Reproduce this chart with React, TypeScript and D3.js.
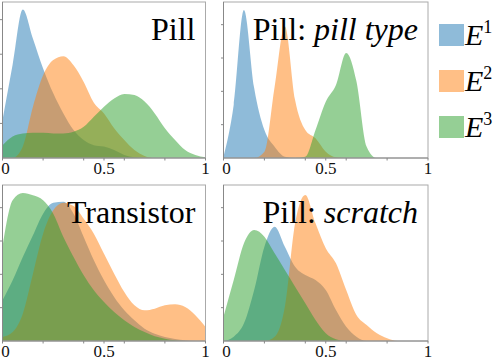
import React from 'react';
import * as d3 from 'd3';

// x grid shared by every density curve
const xs = [0, 0.05, 0.1, 0.15, 0.2, 0.25, 0.3, 0.35, 0.4, 0.45, 0.5, 0.55, 0.6, 0.65, 0.7, 0.75, 0.8, 0.85, 0.9, 0.95, 1];

const pillE1 = [1.1, 2.7, 4.29, 3.45, 2.59, 1.87, 1.29, 0.81, 0.52, 0.37, 0.33, 0.23, 0.09, 0.02, 0, 0, 0, 0, 0, 0, 0];
const pillE2 = [0, 0, 0.33, 1.48, 2.39, 2.83, 2.94, 2.68, 2.2, 1.6, 1.29, 0.86, 0.52, 0.23, 0.06, 0, 0, 0, 0, 0, 0];
const pillE3 = [0.37, 0.62, 0.71, 0.73, 0.73, 0.71, 0.71, 0.76, 0.9, 1.19, 1.48, 1.72, 1.85, 1.82, 1.63, 1.29, 0.86, 0.52, 0.23, 0.09, 0.02];

const pillTypeE1 = [0.04, 1.6, 4.44, 2.1, 0.84, 0.34, 0.04, 0, 0, 0, 0, 0, 0, 0, 0, 0, 0, 0, 0, 0, 0];
const pillTypeE2 = [0, 0, 0, 0, 0.19, 2.14, 3.95, 1.74, 0.84, 0.59, 0.19, 0.02, 0, 0, 0, 0, 0, 0, 0, 0, 0];
const pillTypeE3 = [0, 0, 0, 0, 0, 0, 0, 0, 0.04, 0.84, 1.69, 2.19, 3.15, 2.3, 0.34, 0, 0, 0, 0, 0, 0];

const transistorE1 = [1.22, 1.82, 2.52, 3.17, 3.82, 4.15, 4.18, 3.82, 3.12, 2.42, 1.82, 1.32, 0.92, 0.62, 0.37, 0.22, 0.12, 0.06, 0.02, 0, 0];
const transistorE2 = [0.12, 0.27, 0.82, 2.02, 3.22, 3.92, 4.15, 4.05, 3.67, 3.22, 2.62, 2.02, 1.47, 1.07, 0.92, 0.97, 1.07, 1.1, 1.02, 0.77, 0.42];
const transistorE3 = [2.82, 4.22, 4.44, 4.37, 4.22, 3.82, 3.12, 2.52, 1.97, 1.52, 1.17, 0.87, 0.62, 0.42, 0.27, 0.14, 0.07, 0.02, 0, 0, 0];

const scratchE1 = [0, 0.13, 0.53, 1.53, 2.83, 3.43, 2.83, 2.23, 1.98, 1.83, 1.53, 0.93, 0.43, 0.13, 0, 0, 0, 0, 0, 0, 0];
const scratchE2 = [0, 0, 0, 0, 0, 0.13, 1.03, 3.53, 4.38, 3.53, 2.78, 2.33, 1.53, 0.78, 0.48, 0.23, 0.08, 0, 0, 0, 0];
const scratchE3 = [0.73, 1.83, 2.93, 3.33, 3.13, 2.63, 2.13, 1.63, 1.13, 0.63, 0.23, 0.05, 0, 0, 0, 0, 0, 0, 0, 0, 0];

const xTickLabels = [0, 0.5, 1];
const xMinorTicks = [0.2, 0.4, 0.6, 0.8];
const yTicks = [1, 2, 3, 4];
const seriesNames = ['1', '2', '3'];
const colors = ['#1f77b4', '#ff7f0e', '#2ca02c'];

const panels = [
  { title: 'Pill', sub: '', x0: 2.5, x1: 205.5, y0: 2, y1: 158, ymax: 4.51, series: [pillE1, pillE2, pillE3] },
  { title: 'Pill: ', sub: 'pill type', x0: 223.5, x1: 428, y0: 2, y1: 158, ymax: 4.68, series: [pillTypeE1, pillTypeE2, pillTypeE3] },
  { title: 'Transistor', sub: '', x0: 2.5, x1: 205.5, y0: 185, y1: 341, ymax: 4.68, series: [transistorE1, transistorE2, transistorE3] },
  { title: 'Pill: ', sub: 'scratch', x0: 223.5, x1: 428, y0: 185, y1: 341, ymax: 4.68, series: [scratchE1, scratchE2, scratchE3] },
];

const serifFont = 'Liberation Serif, Tinos, Times New Roman, DejaVu Serif, serif';

function Panel({ p }) {
  const x = d3.scaleLinear().domain([0, 1]).range([p.x0, p.x1]);
  const y = d3.scaleLinear().domain([0, p.ymax]).range([p.y1, p.y0]);
  const area = d3.area()
    .x((d, i) => x(xs[i]))
    .y0(y(0))
    .y1(d => y(d))
    .curve(d3.curveMonotoneX);

  return (
    <g>
      {p.series.map((s, i) => (
        <path key={i} d={area(s)} fill={colors[i]} fillOpacity={0.5} />
      ))}
      <rect x={p.x0} y={p.y0} width={p.x1 - p.x0} height={p.y1 - p.y0}
        fill="none" stroke="#aaa" strokeWidth={1} />
      <line x1={p.x0} x2={p.x1} y1={p.y1} y2={p.y1} stroke="#888" />
      <line x1={p.x0} x2={p.x0} y1={p.y0} y2={p.y1} stroke="#888" />
      {xMinorTicks.concat(xTickLabels).map(t => (
        <line key={'xt' + t} x1={x(t)} x2={x(t)} y1={p.y1} y2={p.y1 + 2.5} stroke="#888" />
      ))}
      {yTicks.map(t => (
        <line key={'yt' + t} x1={p.x0 - 2.5} x2={p.x0} y1={y(t)} y2={y(t)} stroke="#888" />
      ))}
      {xTickLabels.map(t => (
        <text key={'xl' + t} x={x(t) + (t === 0 ? 3 : 0)} y={p.y1 + 16} textAnchor="middle"
          fontFamily={serifFont} fontSize={17} fill="#111">{t}</text>
      ))}
      <text x={p.x1 - 10} y={p.y0 + 38} textAnchor="end" fontFamily={serifFont} fontSize={32} fill="#000">
        {p.title}
        {p.sub && <tspan fontStyle="italic">{p.sub}</tspan>}
      </text>
    </g>
  );
}

export default function App() {
  const legendY = d3.scalePoint().domain(seriesNames).range([35, 127]);
  // pinned to the page corner so the body margin does not move it
  return (
    <svg width={498} height={362} style={{ position: 'fixed', left: 0, top: 0 }}>
      <rect x={0} y={0} width={498} height={362} fill="#fff" />
      {panels.map((p, i) => <Panel key={i} p={p} />)}
      {seriesNames.map((n, i) => (
        <g key={n} transform={`translate(439,${legendY(n)})`}>
          <rect x={0} y={-11} width={25} height={22} fill={colors[i]} fillOpacity={0.5} />
          <text x={26} y={10} fontFamily={serifFont} fontSize={30} fontStyle="italic" fill="#000">
            E<tspan fontStyle="normal" fontSize={18} dy={-12}>{n}</tspan>
          </text>
        </g>
      ))}
    </svg>
  );
}
